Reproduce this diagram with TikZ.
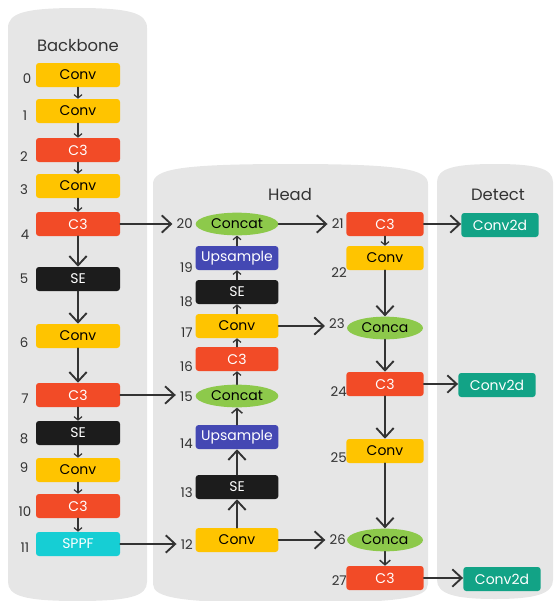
\documentclass[tikz,border=0pt]{standalone}
\usepackage{fontspec}
\setmainfont{Poppins}
\usetikzlibrary{arrows.meta,shapes.geometric}

\definecolor{convY}{HTML}{FFC400}
\definecolor{cthreeR}{HTML}{F24B27}
\definecolor{seK}{HTML}{1C1C1C}
\definecolor{sppfC}{HTML}{16CED4}
\definecolor{upB}{HTML}{4448B3}
\definecolor{catG}{HTML}{8DC94B}
\definecolor{detT}{HTML}{12A386}
\definecolor{panelG}{HTML}{E6E6E6}
\definecolor{inkD}{HTML}{333333}

\tikzset{
  panel/.style={fill=panelG, draw=none},
  ttl/.style={text=inkD, font=\fontsize{12.3}{14}\selectfont},
  idx/.style={text=inkD, font=\fontsize{10}{12}\selectfont, inner sep=0pt},
  blk/.style={rectangle, rounded corners=2.2pt, minimum height=18pt, inner sep=0pt,
              font=\fontsize{10.5}{12}\selectfont},
  bb/.style={minimum width=63pt},
  ha/.style={minimum width=62pt},
  hb/.style={minimum width=58pt},
  conv/.style={blk, fill=convY, text=black},
  cthree/.style={blk, fill=cthreeR, text=white},
  sebox/.style={blk, fill=seK, text=white},
  sppf/.style={blk, fill=sppfC, text=white},
  upbox/.style={blk, fill=upB, text=white},
  detbox/.style={blk, fill=detT, text=white, minimum width=58pt},
  cat/.style={ellipse, fill=catG, text=black, inner sep=0pt, minimum width=62pt,
              minimum height=17pt, font=\fontsize{10.5}{12}\selectfont},
  cathb/.style={cat, minimum width=57pt},
  big/.style={draw=inkD, line width=1.4pt, line cap=round,
              -{Straight Barb[length=7pt,width=13pt,line width=1.4pt]}},
  mid/.style={draw=inkD, line width=1.1pt, line cap=round,
              -{Straight Barb[length=3.5pt,width=8pt,line width=1.1pt]}},
  small/.style={draw=inkD, line width=0.9pt, line cap=round,
              -{Straight Barb[length=2.5pt,width=6pt,line width=0.9pt]}},
}

\begin{document}
\begin{tikzpicture}[x=0.75pt,y=-0.75pt]
\useasboundingbox (0,0) rectangle (555,601);

% column panels, arched at top and bottom
\path[panel] (8,582) -- (8,28) .. controls (8,13) and (25,8) .. (77.5,8)
  .. controls (130,8) and (147,13) .. (147,28) -- (147,582)
  .. controls (147,596) and (130,601) .. (77.5,601)
  .. controls (25,601) and (8,596) .. (8,582) -- cycle;
\path[panel] (153,584) -- (153,184) .. controls (153,169) and (180,164) .. (290.5,164)
  .. controls (401,164) and (428,169) .. (428,184) -- (428,584)
  .. controls (428,598) and (401,603) .. (290.5,603)
  .. controls (180,603) and (153,598) .. (153,584) -- cycle;
\path[panel] (437,580) -- (437,182) .. controls (437,168) and (455,164) .. (495,164)
  .. controls (535,164) and (553,168) .. (553,182) -- (553,580)
  .. controls (553,594) and (535,599) .. (495,599)
  .. controls (455,599) and (437,594) .. (437,580) -- cycle;

\node[ttl] (tbb) at (78,46) {Backbone};
\node[ttl] (thd) at (290,195) {Head};
\node[ttl] (tdt) at (498,195) {Detect};

% backbone
\node[conv,bb]   (b0)  at (78,75)  {Conv};
\node[conv,bb]   (b1)  at (78,111) {Conv};
\node[cthree,bb] (b2)  at (78,150) {C3};
\node[conv,bb]   (b3)  at (78,186) {Conv};
\node[cthree,bb] (b4)  at (78,224) {C3};
\node[sebox,bb]  (b5)  at (78,279) {SE};
\node[conv,bb]   (b6)  at (78,336) {Conv};
\node[cthree,bb] (b7)  at (78,395) {C3};
\node[sebox,bb]  (b8)  at (78,433) {SE};
\node[conv,bb]   (b9)  at (78,470) {Conv};
\node[cthree,bb] (b10) at (78,506) {C3};
\node[sppf,bb]   (b11) at (78,544) {SPPF};

\node[idx] (l0)  at (27,79)  {0};
\node[idx] (l1)  at (25,116) {1};
\node[idx] (l2)  at (24,157) {2};
\node[idx] (l3)  at (24,190) {3};
\node[idx] (l4)  at (25,235) {4};
\node[idx] (l5)  at (24,279) {5};
\node[idx] (l6)  at (24,343) {6};
\node[idx] (l7)  at (25,399) {7};
\node[idx] (l8)  at (24,439) {8};
\node[idx] (l9)  at (24,468) {9};
\node[idx] (l10) at (25,512) {10};
\node[idx] (l11) at (25,548) {11};

% head, left column
\node[cat]       (h20) at (237,224) {Concat};
\node[upbox,ha]  (h19) at (237,258) {Upsample};
\node[sebox,ha]  (h18) at (237,292) {SE};
\node[conv,ha]   (h17) at (237,326) {Conv};
\node[cthree,ha] (h16) at (237,359) {C3};
\node[cat]       (h15) at (237,396) {Concat};
\node[upbox,ha]  (h14) at (237,437) {Upsample};
\node[sebox,ha]  (h13) at (237,487) {SE};
\node[conv,ha]   (h12) at (237,540) {Conv};

\node[idx,anchor=east] (l20) at (193,224) {20};
\node[idx,anchor=east] (l19) at (193,268) {19};
\node[idx,anchor=east] (l18) at (193,302) {18};
\node[idx,anchor=east] (l17) at (193,333) {17};
\node[idx,anchor=east] (l16) at (193,367) {16};
\node[idx,anchor=east] (l15) at (193,397) {15};
\node[idx,anchor=east] (l14) at (193,444) {14};
\node[idx,anchor=east] (l13) at (193,493) {13};
\node[idx,anchor=east] (l12) at (193,545) {12};

% head, right column
\node[cthree,hb] (h21) at (385,224) {C3};
\node[conv,hb]   (h22) at (385,258) {Conv};
\node[cathb]     (h23) at (385,328) {Conca};
\node[cthree,hb] (h24) at (385,384) {C3};
\node[conv,hb]   (h25) at (385,451) {Conv};
\node[cathb]     (h26) at (385,540) {Conca};
\node[cthree,hb] (h27) at (385,578) {C3};

\node[idx,anchor=east] (l21) at (344,224) {21};
\node[idx,anchor=east] (l22) at (347,273) {22};
\node[idx,anchor=east] (l23) at (345,324) {23};
\node[idx,anchor=east] (l24) at (347,392) {24};
\node[idx,anchor=east] (l25) at (347,458) {25};
\node[idx,anchor=east] (l26) at (346,540) {26};
\node[idx,anchor=east] (l27) at (347,581) {27};

% detect
\node[detbox] (d1) at (500,225) {Conv2d};
\node[detbox] (d2) at (497,385) {Conv2d};
\node[detbox] (d3) at (502,579) {Conv2d};

% backbone chain
\draw[small] (b0) -- (b1);
\draw[small] (b1) -- (b2);
\draw[small] (b2) -- (b3);
\draw[small] (b3) -- (b4);
\draw[big]   (b4) -- (b5);
\draw[big]   (b5) -- (b6);
\draw[big]   (b6) -- (b7);
\draw[small] (b7) -- (b8);
\draw[small] (b8) -- (b9);
\draw[small] (b9) -- (b10);
\draw[small] (b10) -- (b11);

% backbone taps into the head
\draw[big,shorten >=3pt] (b4.east) -- (b4.east -| l20.west);
\draw[big,shorten >=3pt] (b7.east) -- (b7.east -| l15.west);
\draw[big,shorten >=3pt] (b11.east) -- (b11.east -| l12.west);

% head, upward path
\draw[big]   (h12) -- (h13);
\draw[big]   (h13) -- (h14);
\draw[mid]   (h14) -- (h15);
\draw[small] (h15) -- (h16);
\draw[small] (h16) -- (h17);
\draw[small] (h17) -- (h18);
\draw[small] (h18) -- (h19);
\draw[small] (h19) -- (h20);

% head, cross links
\draw[big,shorten >=3pt] (h20.east) -- (h20.east -| l21.west);
\draw[big,shorten >=3pt] (h17.east) -- (h17.east -| l23.west);
\draw[big,shorten >=3pt] (h12.east) -- (h12.east -| l26.west);

% head, downward path
\draw[small] (h21) -- (h22);
\draw[big]   (h22) -- (h23);
\draw[big]   (h23) -- (h24);
\draw[big]   (h24) -- (h25);
\draw[big]   (h25) -- (h26);
\draw[mid]   (h26) -- (h27);

% outputs
\draw[big] (h21.east) -- (h21.east -| d1.west);
\draw[big] (h24.east) -- (h24.east -| d2.west);
\draw[big] (h27.east) -- (h27.east -| d3.west);
\end{tikzpicture}
\end{document}
